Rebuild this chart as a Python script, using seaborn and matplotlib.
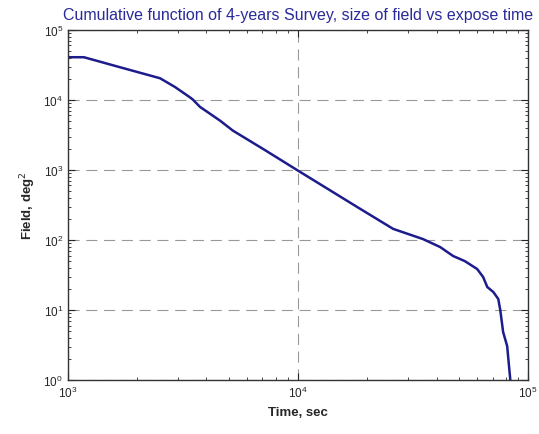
import numpy as np
import pandas as pd
import seaborn as sns
import matplotlib.pyplot as plt

# values
time_sec = [1000, 1174, 1683, 2512, 2918, 3388, 3492, 3750, 3864, 4581, 5212,
            7047, 10000, 12700, 18060, 25900, 34900, 41400, 47200,
            53000, 60000, 63700, 66400, 70500, 74100, 75600, 77800, 81000,
            83600]
field_deg2 = [40700, 40700, 29300, 20400, 15300, 10900, 10100, 7940, 7430, 5060, 3640,
              1995, 977, 603, 296, 144, 103, 79.4, 59,
              50, 38.5, 29.6, 21.3, 18.1, 14.4, 10, 4.85, 3.06,
              1.0]

df = pd.DataFrame({"Time": time_sec, "Field": field_deg2})

sns.set_style("ticks")
plt.rcParams['font.family'] = ['Liberation Sans', 'DejaVu Sans']

fig = plt.figure(figsize=(5.39, 4.35), dpi=100)
ax = fig.add_axes([0.126, 0.124, 0.854, 0.805])

sns.lineplot(data=df, x="Time", y="Field", ax=ax, color="#1c1c8c", linewidth=1.8)

ax.set_xscale("log")
ax.set_yscale("log")
ax.set_xlim(1e3, 1e5)
ax.set_ylim(1e0, 1e5)

ax.grid(True, which="major", linestyle=(0, (10, 6)), color="#999999", linewidth=0.8)
ax.tick_params(which="both", direction="in", top=True, right=True, labelsize=8.5)
ax.tick_params(which="major", length=5)
ax.tick_params(which="minor", length=2.5)
for s in ax.spines.values():
    s.set_linewidth(1.0)
    s.set_color("#333333")

ax.set_xlabel("Time, sec", fontsize=9.5, fontweight="bold")
ax.set_ylabel("Field, deg$^2$", fontsize=9.5, fontweight="bold")
ax.set_title("Cumulative function of 4-years Survey, size of field vs expose time",
             fontsize=11.5, color="#2a2a9a", pad=8)

fig.savefig("out.png", dpi=100)
